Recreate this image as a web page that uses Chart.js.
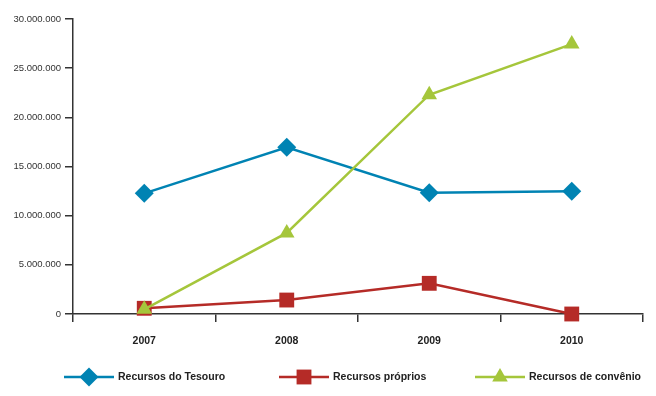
<!DOCTYPE html>
<html>
<head>
<meta charset="utf-8">
<script src="https://cdn.jsdelivr.net/npm/chart.js@4/dist/chart.umd.min.js"></script>
<style>
  html, body { margin: 0; padding: 0; background: #fff; }
  #wrap { width: 656px; height: 396px; }
</style>
</head>
<body>
<div id="wrap"><canvas id="grafico" width="656" height="396"></canvas></div>
<script>
// Dados
const anos = ["2007", "2008", "2009", "2010"];
const tesouro = [12270000, 16950000, 12340000, 12480000];
const proprios = [580000, 1420000, 3120000, 0];
const convenio = [480000, 8250000, 22300000, 27450000];
const yTicks = [0, 5000000, 10000000, 15000000, 20000000, 25000000, 30000000];

const FONTE = "'Liberation Sans', Arial, sans-serif";

function formatar(v) {
  return String(Math.round(v)).replace(/\B(?=(\d{3})+(?!\d))/g, ".");
}

function serie(label, data, cor, estilo, raio, ordem) {
  return {
    label: label,
    data: data,
    borderColor: cor,
    backgroundColor: cor,
    borderWidth: 2.5,
    pointStyle: estilo,
    pointRadius: raio,
    pointHoverRadius: raio,
    pointBackgroundColor: cor,
    pointBorderColor: cor,
    pointBorderWidth: 0,
    tension: 0,
    fill: false,
    clip: false,
    order: ordem
  };
}

// legenda com linha + marcador
const legendaLinha = {
  id: "legendaLinha",
  afterDraw(chart) {
    const c = chart.ctx;
    const inicios = [64, 279, 475];
    const y = 377;
    chart.data.datasets.forEach((ds, i) => {
      const x0 = inicios[i];
      c.save();
      c.strokeStyle = ds.borderColor;
      c.lineWidth = 2.5;
      c.beginPath();
      c.moveTo(x0, y);
      c.lineTo(x0 + 50, y);
      c.stroke();
      c.fillStyle = ds.borderColor;
      Chart.helpers.drawPoint(c, {
        pointStyle: ds.pointStyle, radius: ds.pointRadius, rotation: 0, borderWidth: 0
      }, x0 + 25, y);
      c.fillStyle = "#222";
      c.font = "bold 10.5px " + FONTE;
      c.textBaseline = "middle";
      c.textAlign = "left";
      c.fillText(ds.label, x0 + 54, y);
      c.restore();
    });
  }
};

new Chart(document.getElementById("grafico"), {
  type: "line",
  data: {
    labels: anos,
    datasets: [
      serie("Recursos do Tesouro", tesouro, "#0083b3", "rectRot", 9.5, 3),
      serie("Recursos próprios", proprios, "#b52b27", "rect", 10.5, 2),
      serie("Recursos de convênio", convenio, "#a5c63b", "triangle", 9, 1)
    ]
  },
  options: {
    responsive: false,
    animation: false,
    layout: { padding: { top: 19, right: 13, bottom: 0, left: 0 } },
    plugins: {
      legend: { display: false },
      tooltip: { enabled: false }
    },
    scales: {
      x: {
        offset: true,
        grid: { offset: true, drawOnChartArea: false, tickLength: 8, color: "#333", lineWidth: 1.5 },
        border: { color: "#333", width: 1.5 },
        ticks: { color: "#222", padding: 13, font: { family: FONTE, size: 10.5, weight: "bold" } },
        afterFit(s) { s.height = 82; }
      },
      y: {
        min: 0,
        max: 30000000,
        afterBuildTicks(s) { s.ticks = yTicks.map(v => ({ value: v })); },
        grid: { drawOnChartArea: false, tickLength: 8, color: "#333", lineWidth: 1.5 },
        border: { color: "#333", width: 1.5 },
        ticks: {
          color: "#333",
          padding: 4,
          font: { family: FONTE, size: 9.5 },
          callback: v => formatar(v)
        },
        afterFit(s) { s.width = 73; }
      }
    }
  },
  plugins: [legendaLinha]
});
</script>
</body>
</html>
